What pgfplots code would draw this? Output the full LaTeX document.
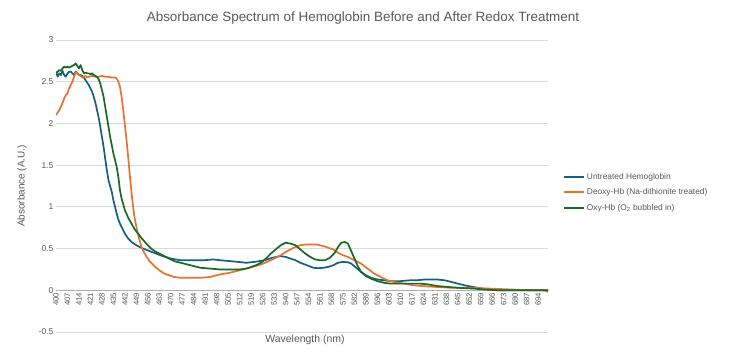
\documentclass[border=0pt]{standalone}
\usepackage{pgfplots}
\pgfplotsset{compat=1.18}
\usepackage{fontspec}
\setmainfont{Liberation Sans}
\definecolor{txt}{RGB}{89,89,89}
\definecolor{gridc}{RGB}{217,217,217}
\definecolor{cblue}{RGB}{21,96,130}
\definecolor{corange}{RGB}{233,113,50}
\definecolor{cgreen}{RGB}{25,107,36}
\begin{document}
\begin{tikzpicture}[x=1bp,y=1bp]
\useasboundingbox[fill=white] (0,0) rectangle (731,357);
\begin{axis}[
  at={(56bp,25bp)}, anchor=south west,
  scale only axis, width=492bp, height=292bp,
  xmin=400, xmax=700, ymin=-0.5, ymax=3,
  axis x line*=middle, axis y line*=left,
  hide obscured x ticks=false, hide obscured y ticks=false,
  x axis line style={draw=gridc!80!black, line width=0.75bp, -},
  y axis line style={draw=none},
  xtick={400,407,...,694},
  ytick={-0.5,0,0.5,1,1.5,2,2.5,3},
  yticklabels={-0.5,0,0.5,1,1.5,2,2.5,3},
  major tick length=0pt,
  ymajorgrids, grid style={draw=gridc, line width=0.75bp},
  tick label style={font=\fontsize{8.5}{9}\selectfont, text=txt},
  /pgf/number format/assume math mode=true,
  xticklabel style={rotate=90, anchor=east, inner sep=2.5bp, font=\fontsize{7.8}{8}\selectfont},
  yticklabel style={inner sep=2.5bp},
  legend style={at={(1.03,0.552)}, anchor=north west, draw=none, fill=none,
    font=\fontsize{8.4}{9}\selectfont, text=txt, row sep=4bp,
    inner sep=0pt, cells={anchor=west}},
  legend cell align=left,
  legend image code/.code={\draw[#1, line width=2bp] (0bp,0bp) -- (20bp,0bp);},
  every axis plot/.append style={line width=1.7bp, line join=round},
]
\addplot[cblue] coordinates {(400,2.62)(401,2.56)(402,2.6)(403,2.58)(404,2.63)(405,2.58)(406,2.56)(407,2.6)(408,2.62)(409,2.62)(410,2.6)(411,2.58)(412,2.62)(413,2.6)(414,2.58)(415,2.58)(416,2.57)(417,2.55)(418,2.52)(419,2.49)(420,2.46)(421,2.42)(422,2.38)(423,2.32)(424,2.25)(425,2.16)(426,2.07)(427,1.96)(428,1.84)(429,1.72)(430,1.58)(431,1.44)(432,1.32)(433,1.25)(434,1.18)(435,1.08)(436,1.0)(437,0.92)(438,0.85)(439,0.8)(440,0.76)(442,0.68)(444,0.62)(446,0.58)(449,0.54)(453,0.5)(457,0.47)(461,0.44)(465,0.41)(470,0.38)(476,0.36)(485,0.36)(490,0.36)(496,0.37)(500,0.36)(506,0.35)(511,0.34)(516,0.33)(521,0.34)(527,0.36)(532,0.39)(537,0.41)(540,0.40)(543,0.38)(546,0.36)(549,0.33)(553,0.3)(557,0.27)(560,0.265)(563,0.27)(566,0.28)(569,0.3)(572,0.33)(575,0.34)(578,0.335)(580,0.32)(583,0.27)(586,0.22)(589,0.18)(592,0.15)(596,0.13)(600,0.12)(604,0.11)(610,0.11)(616,0.12)(620,0.12)(625,0.13)(632,0.13)(637,0.12)(641,0.1)(645,0.08)(649,0.06)(653,0.045)(657,0.03)(660,0.02)(663,0.01)(666,0.005)(670,0)(700,0)};
\addlegendentry{Untreated Hemoglobin}
\addplot[corange] coordinates {(400,2.1)(401,2.13)(402,2.16)(403,2.2)(404,2.25)(405,2.3)(406,2.34)(407,2.36)(408,2.42)(409,2.46)(410,2.5)(411,2.56)(412,2.61)(413,2.6)(414,2.58)(415,2.57)(416,2.55)(417,2.56)(418,2.57)(419,2.55)(420,2.56)(422,2.57)(424,2.56)(426,2.56)(428,2.57)(430,2.56)(432,2.56)(434,2.55)(436,2.55)(437,2.54)(438,2.5)(439,2.44)(440,2.32)(441,2.16)(442,1.98)(443,1.8)(444,1.6)(445,1.38)(446,1.18)(447,1.0)(448,0.86)(449,0.76)(450,0.67)(451,0.6)(452,0.53)(453,0.48)(455,0.41)(457,0.35)(460,0.29)(463,0.24)(466,0.2)(469,0.18)(472,0.16)(476,0.15)(488,0.15)(494,0.16)(500,0.19)(506,0.21)(512,0.24)(518,0.27)(525,0.31)(531,0.36)(537,0.42)(541,0.47)(545,0.51)(549,0.54)(553,0.55)(559,0.55)(563,0.53)(566,0.51)(569,0.49)(572,0.45)(575,0.42)(578,0.4)(582,0.36)(586,0.32)(590,0.26)(594,0.2)(598,0.16)(602,0.12)(606,0.1)(612,0.08)(618,0.06)(624,0.05)(632,0.04)(641,0.03)(653,0.03)(665,0.02)(677,0.01)(690,0)(698,0)(700,-0.02)};
\addlegendentry{Deoxy-Hb (Na-dithionite treated)}
\addplot[cgreen] coordinates {(400,2.6)(401,2.62)(402,2.64)(403,2.63)(404,2.66)(405,2.68)(406,2.67)(407,2.68)(408,2.67)(409,2.68)(410,2.69)(411,2.7)(412,2.72)(413,2.69)(414,2.66)(415,2.7)(416,2.64)(417,2.6)(418,2.61)(419,2.6)(420,2.6)(421,2.59)(422,2.6)(423,2.58)(424,2.57)(425,2.56)(426,2.53)(427,2.48)(428,2.4)(429,2.32)(430,2.2)(431,2.08)(432,1.96)(433,1.84)(434,1.74)(435,1.64)(436,1.56)(437,1.48)(438,1.36)(439,1.2)(440,1.1)(442,0.96)(444,0.87)(446,0.8)(448,0.73)(450,0.68)(452,0.63)(455,0.56)(458,0.5)(461,0.46)(464,0.43)(468,0.39)(472,0.35)(476,0.33)(480,0.31)(484,0.29)(488,0.27)(494,0.26)(500,0.25)(506,0.25)(512,0.25)(516,0.26)(519,0.28)(522,0.3)(525,0.33)(528,0.38)(531,0.44)(534,0.49)(537,0.54)(540,0.57)(543,0.56)(546,0.54)(549,0.49)(552,0.44)(555,0.4)(558,0.37)(561,0.36)(564,0.36)(567,0.39)(570,0.45)(572,0.52)(574,0.57)(576,0.58)(578,0.56)(580,0.47)(582,0.38)(584,0.29)(586,0.22)(589,0.17)(592,0.14)(596,0.11)(600,0.09)(604,0.08)(616,0.08)(622,0.08)(627,0.07)(633,0.05)(645,0.03)(655,0.02)(661,0.01)(670,0)(700,0)};
\addlegendentry{Oxy-Hb (O\textsubscript{2} bubbled in)}
\end{axis}
\node[text=txt, font=\fontsize{13.5}{14}\selectfont] at (363,339) {Absorbance Spectrum of Hemoglobin Before and After Redox Treatment};
\node[text=txt, font=\fontsize{10.5}{11}\selectfont] at (305,17) {Wavelength (nm)};
\node[text=txt, font=\fontsize{10}{11}\selectfont, rotate=90] at (22,171) {Absorbance (A.U.)};
\end{tikzpicture}
\end{document}
